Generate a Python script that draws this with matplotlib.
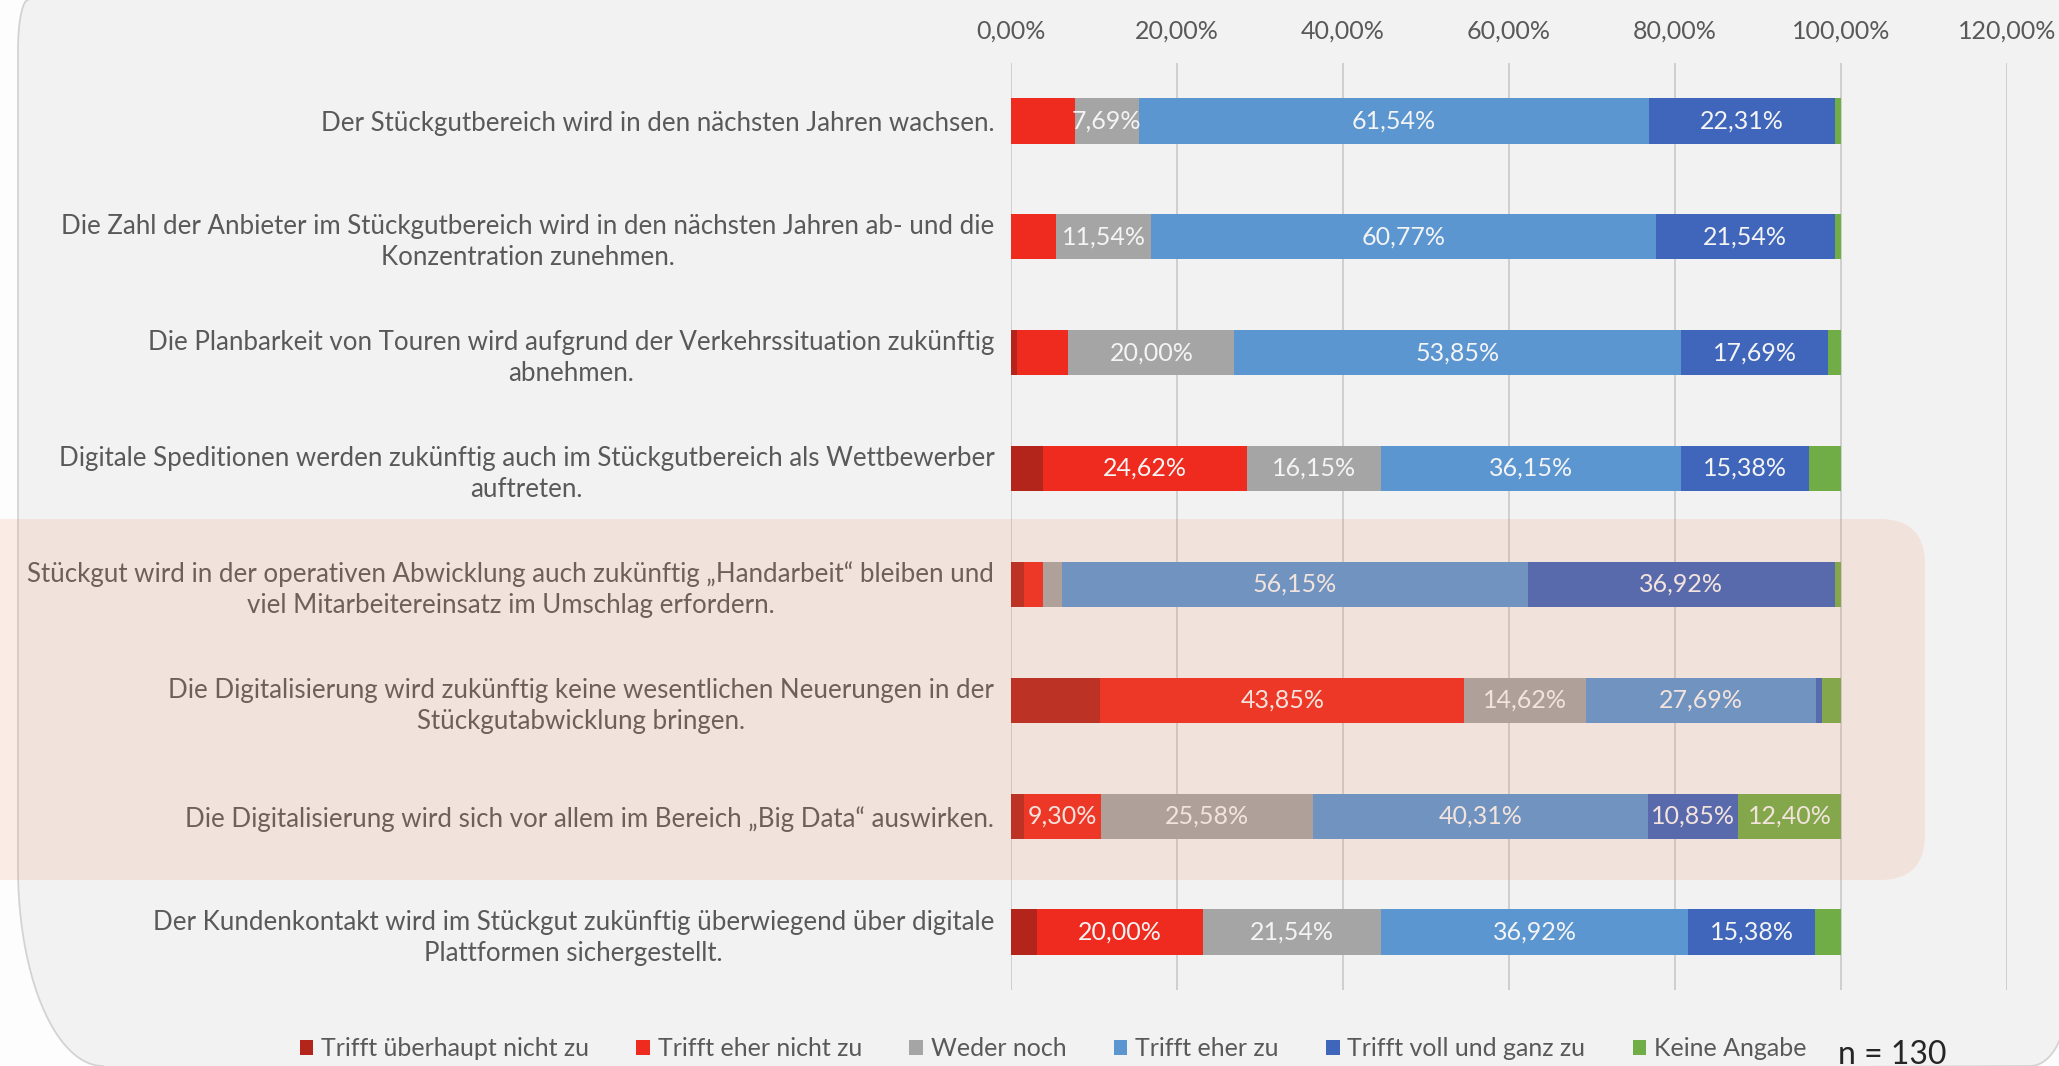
import numpy as np
import matplotlib.pyplot as plt
from matplotlib.patches import Patch, FancyBboxPatch, PathPatch
from matplotlib.path import Path

plt.rcParams['font.family'] = ['Lato', 'DejaVu Sans']

statements = [
    "Der Stückgutbereich wird in den nächsten Jahren wachsen.",
    "Die Zahl der Anbieter im Stückgutbereich wird in den nächsten Jahren ab- und die\nKonzentration zunehmen.",
    "Die Planbarkeit von Touren wird aufgrund der Verkehrssituation zukünftig\nabnehmen.",
    "Digitale Speditionen werden zukünftig auch im Stückgutbereich als Wettbewerber\nauftreten.",
    "Stückgut wird in der operativen Abwicklung auch zukünftig „Handarbeit“ bleiben und\nviel Mitarbeitereinsatz im Umschlag erfordern.",
    "Die Digitalisierung wird zukünftig keine wesentlichen Neuerungen in der\nStückgutabwicklung bringen.",
    "Die Digitalisierung wird sich vor allem im Bereich „Big Data“ auswirken.",
    "Der Kundenkontakt wird im Stückgut zukünftig überwiegend über digitale\nPlattformen sichergestellt.",
]

answers = ["Trifft überhaupt nicht zu", "Trifft eher nicht zu", "Weder noch",
           "Trifft eher zu", "Trifft voll und ganz zu", "Keine Angabe"]
colors = ["#B3241A", "#EE2B1E", "#A5A5A5", "#5B96D1", "#3F66BA", "#70AD47"]

ueberhaupt_nicht = [0.00, 0.00, 0.77, 3.85, 1.54, 10.77, 1.55, 3.08]
eher_nicht = [7.69, 5.38, 6.15, 24.62, 2.31, 43.85, 9.30, 20.00]
weder_noch = [7.69, 11.54, 20.00, 16.15, 2.31, 14.62, 25.58, 21.54]
eher_zu = [61.54, 60.77, 53.85, 36.15, 56.15, 27.69, 40.31, 36.92]
voll_zu = [22.31, 21.54, 17.69, 15.38, 36.92, 0.77, 10.85, 15.38]
keine_angabe = [0.77, 0.77, 1.54, 3.85, 0.77, 2.31, 12.40, 3.08]

# which segments carry a data label (row x answer)
show_label = [
    [0, 0, 1, 1, 1, 0],
    [0, 0, 1, 1, 1, 0],
    [0, 0, 1, 1, 1, 0],
    [0, 1, 1, 1, 1, 0],
    [0, 0, 0, 1, 1, 0],
    [0, 1, 1, 1, 0, 0],
    [0, 1, 1, 1, 1, 1],
    [0, 1, 1, 1, 1, 0],
]

xticks = [0, 20, 40, 60, 80, 100, 120]
n_text = "n = 130"

series = [ueberhaupt_nicht, eher_nicht, weder_noch, eher_zu, voll_zu, keine_angabe]


def pct(v):
    return f"{v:.2f}".replace('.', ',') + '%'


W, H = 2059, 1066
fig = plt.figure(figsize=(W / 100, H / 100), dpi=100)
fig.patch.set_facecolor('#fdfdfd')

# grey background panel, rounded on the left
bg = fig.add_axes([0, 0, 1, 1], zorder=-1)
bg.set_xlim(0, W)
bg.set_ylim(H, 0)
bg.axis('off')
t = np.linspace(0, np.pi / 2, 40)
top_left = np.column_stack([28 - 10 * np.sin(t), 50 - 50 * np.cos(t)])
bot_left = np.column_stack([103 - 85 * np.cos(t), 868 + 198 * np.sin(t)])
bot_right = np.column_stack([2030 + 35 * np.sin(t), 1010 + 56 * np.cos(t)])
verts = np.vstack([[[W + 10, -10]], [[28, -10]], top_left, bot_left,
                   [[103, H + 10]], bot_right, [[W + 10, 1010]], [[W + 10, -10]]])
bg.add_patch(PathPatch(Path(verts), facecolor='#f2f2f2', edgecolor='#d3d3d3', lw=1.3))

# main chart
ax = fig.add_axes([1011 / W, 1 - 990 / H, (2007 - 1011) / W, (990 - 63) / H])
ax.set_facecolor('none')
y = np.arange(len(statements))
left = np.zeros(len(statements))
for j, vals in enumerate(series):
    vals = np.array(vals)
    ax.barh(y, vals, left=left, height=0.39, color=colors[j], label=answers[j], zorder=3)
    for i, v in enumerate(vals):
        if show_label[i][j]:
            ax.text(left[i] + v / 2, i, pct(v), ha='center', va='center',
                    color='#f4f4f4', fontsize=18, zorder=4)
    left += vals

ax.set_xlim(0, 120)
ax.set_ylim(len(statements) - 0.5, -0.5)
ax.set_xticks(xticks)
ax.set_xticklabels([pct(v) for v in xticks])
ax.xaxis.tick_top()
ax.set_yticks(y)
ax.set_yticklabels(statements)
for lbl in ax.get_yticklabels():
    lbl.set_multialignment('center')
    lbl.set_linespacing(1.3)
ax.tick_params(axis='x', length=0, pad=15, labelsize=18, labelcolor='#595959')
ax.tick_params(axis='y', length=0, pad=12, labelsize=18.6, labelcolor='#595959')
ax.grid(axis='x', color='#cfcfcf', lw=1.4, zorder=0)
ax.set_axisbelow(True)
for s in ax.spines.values():
    s.set_visible(False)

# legend and sample size
handles = [Patch(facecolor=c, edgecolor='none') for c in colors]
fig.legend(handles, answers, loc='center', bbox_to_anchor=(1053 / W, 1 - 1049 / H), ncol=6,
           frameon=False, fontsize=18, handlelength=0.55, handleheight=0.55,
           handletextpad=0.3, columnspacing=1.9, labelcolor='#595959')
fig.text(1838 / W, 1 - 1055 / H, n_text, fontsize=23, color='#262626', va='center', ha='left')

# translucent highlight over rows 5-7
ov = fig.add_axes([0, 0, 1, 1])
ov.set_xlim(0, W)
ov.set_ylim(H, 0)
ov.axis('off')
ov.add_patch(FancyBboxPatch((-80, 519), 1925 + 80, 361,
                            boxstyle="round,pad=0,rounding_size=45",
                            facecolor=(242 / 255, 135 / 255, 95 / 255), alpha=0.15,
                            edgecolor='none'))

fig.savefig('out.png', dpi=100, facecolor=fig.get_facecolor())
